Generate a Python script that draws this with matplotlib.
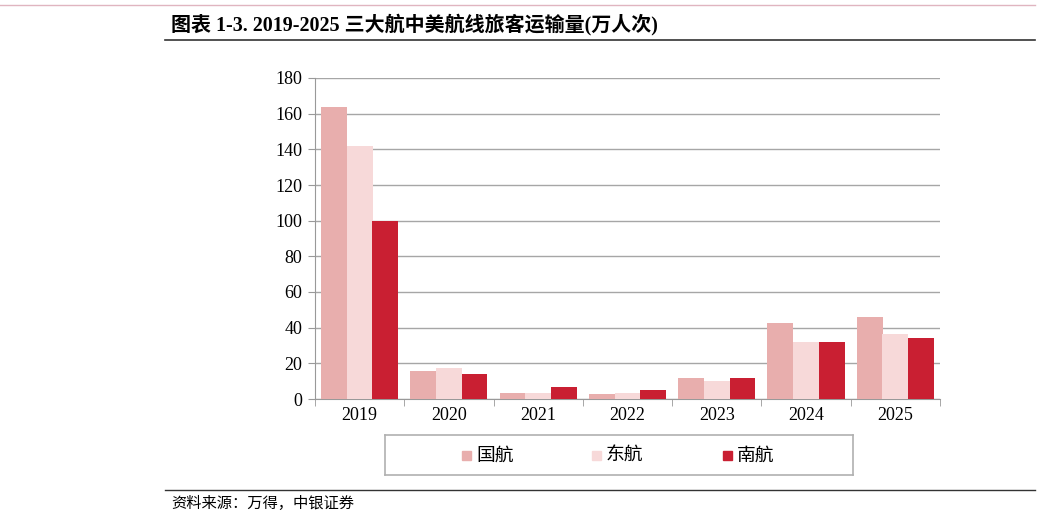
import matplotlib
matplotlib.use("Agg")
import matplotlib.pyplot as plt
import numpy as np
from matplotlib.patches import Rectangle

years = ["2019", "2020", "2021", "2022", "2023", "2024", "2025"]
series_names = ["国航", "东航", "南航"]
air_china = [163.8, 15.7, 3.4, 2.8, 11.8, 42.6, 46.0]
china_eastern = [141.9, 17.4, 3.4, 3.4, 10.1, 32.0, 36.5]
china_southern = [99.8, 14.0, 6.7, 5.0, 11.8, 32.0, 34.2]
colors = ["#E8AEAD", "#F7D9D9", "#C91F32"]
yticks = [0, 20, 40, 60, 80, 100, 120, 140, 160, 180]

FONT = ["Liberation Serif", "Noto Sans CJK SC"]
plt.rcParams["font.family"] = FONT

W, H = 1042, 517
fig = plt.figure(figsize=(W / 100, H / 100), dpi=100)

# plot area
x0, x1, ytop, ybot = 315, 940, 78, 399
ax = fig.add_axes([x0 / W, 1 - ybot / H, (x1 - x0) / W, (ybot - ytop) / H])

x = np.arange(len(years))
bw = 0.288
data = [air_china, china_eastern, china_southern]
for i, (vals, c) in enumerate(zip(data, colors)):
    ax.bar(x + (i - 1) * bw, vals, width=bw, color=c, zorder=3, label=series_names[i])

ax.set_xlim(-0.5, len(years) - 0.5)
ax.set_ylim(0, 180)
ax.set_yticks(yticks)
ax.set_yticklabels([str(v) for v in yticks], fontsize=13)
ax.set_xticks(x)
ax.set_xticklabels(years, fontsize=13)
ax.tick_params(axis="x", length=0, pad=6)
ax.tick_params(axis="y", length=5, color="#999999", pad=4)
ax.set_xticks(np.arange(-0.5, len(years), 1), minor=True)
ax.tick_params(axis="x", which="minor", length=5, color="#999999", direction="out")
ax.grid(axis="y", color="#A6A6A6", linewidth=1.0, zorder=0)
for s in ["top", "right"]:
    ax.spines[s].set_visible(False)
ax.spines["left"].set_color("#999999")
ax.spines["bottom"].set_color("#999999")

# legend box
leg_ax = fig.add_axes([385 / W, 1 - 475 / H, (853 - 385) / W, 40 / H])
leg_ax.set_xlim(0, 1)
leg_ax.set_ylim(0, 1)
leg_ax.set_xticks([])
leg_ax.set_yticks([])
for s in leg_ax.spines.values():
    s.set_color("#B0B0B0")
    s.set_linewidth(1.2)
marker_x = [466, 596, 727]
for mx, c, name in zip(marker_x, colors, series_names):
    fig.patches.append(Rectangle(((mx - 4) / W, 1 - 460 / H), 9 / W, 9 / H,
                                 transform=fig.transFigure, color=c))
    fig.text((mx + 10) / W, 1 - 455.5 / H, name, fontsize=13.5, va="center", ha="left",
             family=["Noto Sans CJK SC"])

# title
fig.text(171 / W, 1 - 25 / H, "图表 1-3. 2019-2025 三大航中美航线旅客运输量(万人次)",
         fontsize=14.4, fontweight="bold", va="center", ha="left", family=FONT)
fig.add_artist(plt.Line2D([165 / W, 1035 / W], [1 - 40 / H, 1 - 40 / H], color="#333333", linewidth=1.2))
fig.add_artist(plt.Line2D([0, 1035 / W], [1 - 5 / H, 1 - 5 / H], color="#E0B5C0", linewidth=1.0))

# source
fig.add_artist(plt.Line2D([165 / W, 1035 / W], [1 - 490 / H, 1 - 490 / H], color="#333333", linewidth=1.0))
fig.text(171 / W, 1 - 503 / H, "资料来源：万得，中银证券", fontsize=11, style="italic",
         va="center", ha="left", family=["Noto Sans CJK SC"])

fig.savefig("out.png", dpi=100)
